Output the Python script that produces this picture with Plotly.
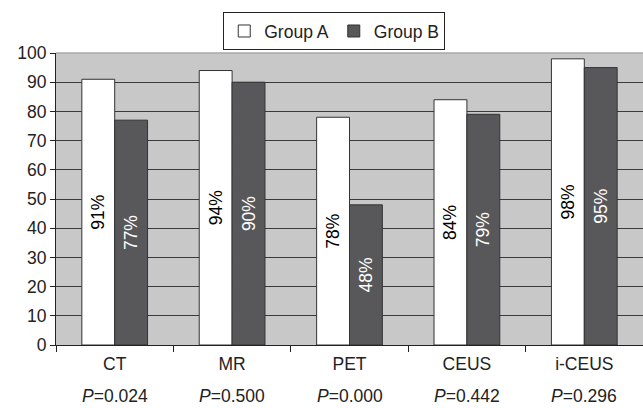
import plotly.graph_objects as go

categories = ["CT", "MR", "PET", "CEUS", "i-CEUS"]
p_values = ["0.024", "0.500", "0.000", "0.442", "0.296"]
group_a = [91, 94, 78, 84, 98]
group_b = [77, 90, 48, 79, 95]
y_ticks = [0, 10, 20, 30, 40, 50, 60, 70, 80, 90, 100]

FONT = "Liberation Sans, Arial, sans-serif"
FS = 17.5

fig = go.Figure()
fig.add_trace(go.Bar(
    name="Group A", x=categories, y=group_a,
    text=[f"{v}%" for v in group_a], textposition="inside",
    insidetextanchor="middle", textangle=-90,
    textfont=dict(color="black", size=FS, family=FONT),
    marker=dict(color="white", line=dict(color="#333333", width=1)),
))
fig.add_trace(go.Bar(
    name="Group B", x=categories, y=group_b,
    text=[f"{v}%" for v in group_b], textposition="inside",
    insidetextanchor="middle", textangle=-90,
    textfont=dict(color="white", size=FS, family=FONT),
    marker=dict(color="#58585a", line=dict(color="#333333", width=1)),
))

for c, p in zip(categories, p_values):
    fig.add_annotation(
        x=c, xref="x", y=-0.175, yref="paper", yanchor="middle",
        text=f"<i>P</i>=" + p, showarrow=False,
        font=dict(size=FS, family=FONT, color="#222222"),
    )

# lighter top border of the plot area (no dark gridline at 100 in the reference)
fig.add_shape(type="line", xref="paper", yref="paper", x0=0, x1=1, y0=1, y1=1,
              line=dict(color="#a8a8a8", width=1.5), layer="above")

fig.update_layout(
    width=643, height=408,
    margin=dict(l=56, r=0, t=53, b=63, autoexpand=False),
    paper_bgcolor="white", plot_bgcolor="#c8c8c9",
    barmode="group", bargap=0.44, bargroupgap=0,
    font=dict(family=FONT, size=FS, color="#222222"),
    showlegend=True,
    legend=dict(
        orientation="h", x=0.474, xanchor="center", y=1.14, yanchor="top",
        bordercolor="#222222", borderwidth=1, bgcolor="white",
        font=dict(size=FS, family=FONT), traceorder="normal",
        itemwidth=30, tracegroupgap=0,
    ),
)
fig.update_xaxes(
    showline=True, linecolor="#222222", linewidth=1,
    ticks="outside", ticklen=6, tickcolor="#222222",
    tickson="boundaries", showgrid=False,
    tickfont=dict(size=FS, family=FONT), ticklabelstandoff=3,
)
fig.update_yaxes(
    range=[0, 100], tickvals=y_ticks,
    showline=True, linecolor="#222222", linewidth=1,
    ticks="outside", ticklen=5, tickcolor="#222222",
    showgrid=True, gridcolor="#3a3a3a", gridwidth=1,
    zeroline=False, tickfont=dict(size=FS, family=FONT),
)

fig.write_html(
    "out.html",
    config={"displayModeBar": False},
    post_script="document.body.style.margin='0';document.body.style.overflow='hidden';",
)
